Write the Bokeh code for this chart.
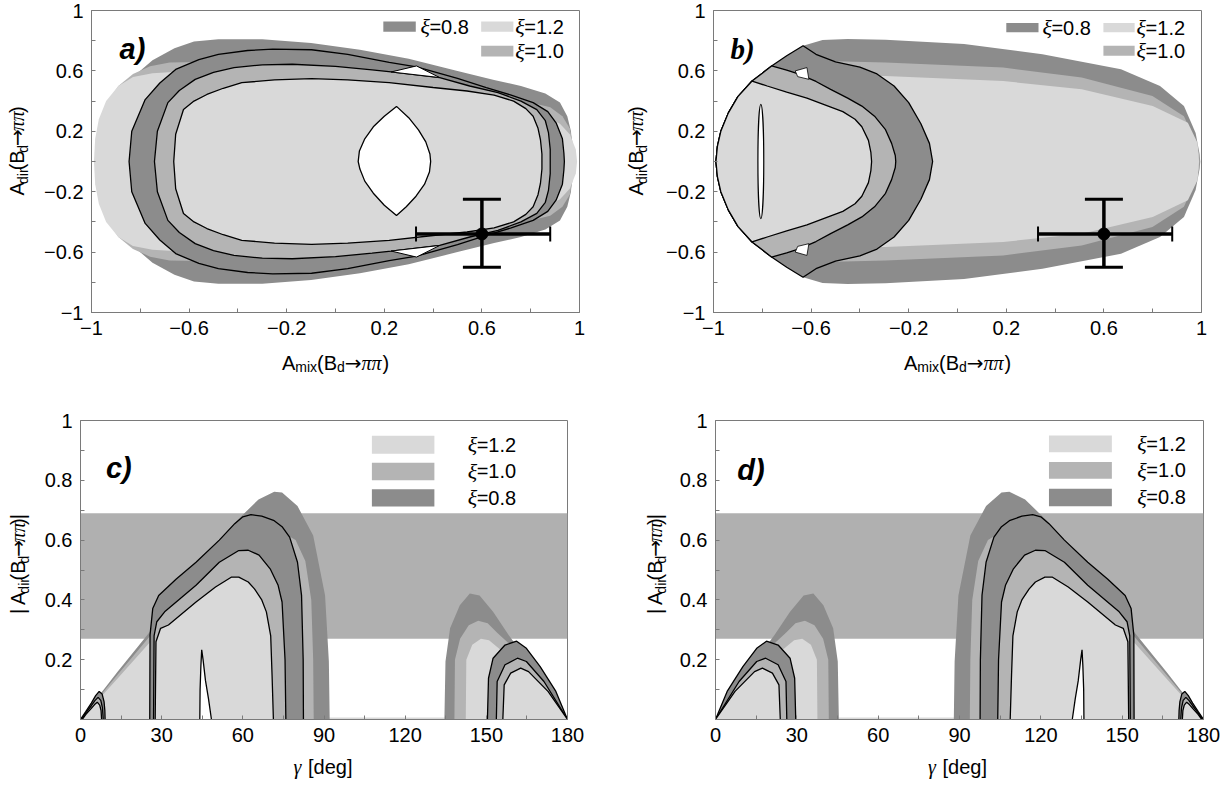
from math import pi
from bokeh.plotting import figure
from bokeh.layouts import column, row
from bokeh.models import FixedTicker, Whisker, TeeHead, ColumnDataSource, Range1d
from bokeh.core.properties import value
from bokeh.embed import file_html
from bokeh.resources import INLINE

# ------------------------------------------------------------------ data
# panels a/b : x = A_mix, y = A_dir (regions symmetric in A_dir; upper halves listed)
a_dark_top = [(-0.95, 0), (-0.94, 0.2), (-0.9, 0.4), (-0.83, 0.56), (-0.75, 0.67), (-0.66, 0.75),
              (-0.58, 0.795), (-0.48, 0.81), (-0.3, 0.81), (-0.1, 0.785), (0.1, 0.74), (0.3, 0.68),
              (0.5, 0.6), (0.65, 0.54), (0.76, 0.5), (0.86, 0.45), (0.92, 0.39), (0.95, 0.3),
              (0.965, 0.2), (0.97, 0.1), (0.97, 0)]
a_med_top = [(-0.975, 0), (-0.97, 0.2), (-0.94, 0.38), (-0.89, 0.5), (-0.83, 0.58), (-0.76, 0.63),
             (-0.68, 0.655), (-0.5, 0.66), (-0.2, 0.65), (0.2, 0.58), (0.5, 0.5), (0.7, 0.43),
             (0.88, 0.36), (0.93, 0.3), (0.96, 0.22), (0.975, 0.1), (0.975, 0)]
a_light_top = [(-0.99, 0), (-0.985, 0.15), (-0.97, 0.28), (-0.94, 0.4), (-0.89, 0.5), (-0.83, 0.56),
               (-0.75, 0.585), (-0.6, 0.6), (-0.4, 0.6), (-0.1, 0.58), (0.2, 0.54), (0.5, 0.46),
               (0.7, 0.38), (0.86, 0.3), (0.92, 0.25), (0.96, 0.18), (0.985, 0.08), (0.99, 0)]
a_c1_top = [(-0.846, 0), (-0.835, 0.2), (-0.78, 0.41), (-0.72, 0.52), (-0.655, 0.61), (-0.56, 0.675),
            (-0.48, 0.71), (-0.36, 0.735), (-0.257, 0.744), (-0.098, 0.74), (0.05, 0.71), (0.22, 0.656),
            (0.332, 0.627), (0.5, 0.55), (0.618, 0.49), (0.72, 0.44), (0.81, 0.39), (0.87, 0.33),
            (0.904, 0.256), (0.93, 0.15), (0.936, 0.056), (0.938, 0)]
a_c2_top = [(-0.742, 0), (-0.73, 0.2), (-0.687, 0.39), (-0.64, 0.47), (-0.575, 0.544), (-0.5, 0.59),
            (-0.416, 0.622), (-0.3, 0.64), (-0.177, 0.644), (0.0, 0.63), (0.15, 0.607), (0.228, 0.593),
            (0.427, 0.556), (0.55, 0.5), (0.666, 0.456), (0.76, 0.4), (0.825, 0.344), (0.86, 0.27),
            (0.873, 0.189), (0.88, 0.08), (0.88, 0)]
a_c3_top = [(-0.663, 0), (-0.655, 0.18), (-0.623, 0.344), (-0.58, 0.4), (-0.527, 0.444), (-0.46, 0.485),
            (-0.384, 0.522), (-0.25, 0.54), (-0.098, 0.549), (0.05, 0.54), (0.22, 0.522), (0.4, 0.49),
            (0.539, 0.467), (0.65, 0.44), (0.73, 0.4), (0.78, 0.35), (0.81, 0.3), (0.83, 0.22),
            (0.84, 0.144), (0.846, 0.05), (0.846, 0)]
a_lens = [(0.25, 0.365), (0.3, 0.29), (0.34, 0.21), (0.37, 0.13), (0.387, 0.05), (0.39, 0.0),
          (0.385, -0.07), (0.365, -0.15), (0.33, -0.23), (0.29, -0.3), (0.25, -0.358), (0.2, -0.29),
          (0.155, -0.21), (0.12, -0.13), (0.1, -0.05), (0.093, 0.0), (0.098, 0.07), (0.12, 0.15),
          (0.155, 0.23), (0.2, 0.3)]
a_notch_top = [(0.228, 0.593), (0.332, 0.633), (0.427, 0.556)]

b_dark_top = [(-0.75, 0), (-0.72, 0.65), (-0.633, 0.767), (-0.553, 0.805), (-0.45, 0.812), (-0.295, 0.807),
              (0.027, 0.778), (0.348, 0.711), (0.67, 0.611), (0.83, 0.5), (0.928, 0.367), (0.976, 0.189),
              (0.992, 0.05), (0.995, 0)]
b_med_top = [(-0.75, 0), (-0.72, 0.6), (-0.55, 0.665), (-0.295, 0.656), (0.187, 0.622), (0.509, 0.556),
             (0.799, 0.433), (0.928, 0.3), (0.97, 0.15), (0.99, 0.05), (0.992, 0)]
b_light_top = [(-0.75, 0), (-0.72, 0.55), (-0.55, 0.57), (-0.295, 0.567), (0.187, 0.533), (0.509, 0.478),
               (0.8, 0.367), (0.944, 0.256), (0.984, 0.122), (0.99, 0)]
b_arc_top = [(-0.633, 0.767), (-0.70, 0.70), (-0.762, 0.633), (-0.80, 0.585), (-0.842, 0.533),
             (-0.9, 0.43), (-0.939, 0.322), (-0.97, 0.2), (-0.984, 0.1), (-0.99, 0.0)]
b_l1_top = [(-0.633, 0.767), (-0.58, 0.71), (-0.5, 0.66), (-0.4, 0.625), (-0.33, 0.58), (-0.26, 0.5),
            (-0.2, 0.39), (-0.15, 0.25), (-0.115, 0.12), (-0.102, 0.0)]
b_l2_top = [(-0.762, 0.633), (-0.7, 0.605), (-0.649, 0.578), (-0.58, 0.53), (-0.52, 0.478), (-0.45, 0.42),
            (-0.392, 0.367), (-0.34, 0.3), (-0.295, 0.211), (-0.27, 0.12), (-0.255, 0.04), (-0.253, 0.0)]
b_l3_top = [(-0.842, 0.533), (-0.78, 0.5), (-0.7, 0.46), (-0.617, 0.42), (-0.56, 0.385), (-0.47, 0.33),
            (-0.42, 0.28), (-0.392, 0.23), (-0.365, 0.14), (-0.355, 0.06), (-0.352, 0.0)]
b_notch_top = [(-0.665, 0.6), (-0.617, 0.622), (-0.609, 0.544), (-0.655, 0.562)]
b_slit_x, b_slit_y, b_slit_w, b_slit_h = [-0.806], [0.0], [0.024], [0.756]

# experimental point (both upper panels)
exp_amix, exp_adir = [0.6], [-0.48]
exp_amix_lo, exp_amix_hi = [0.33], [0.88]
exp_adir_lo, exp_adir_hi = [-0.70], [-0.25]

# legends of a / b
leg_ab_xi = ["0.8", "1.2", "1.0"]
a_leg_left, a_leg_right = [0.196, 0.597, 0.597], [0.329, 0.729, 0.729]
a_leg_bottom, a_leg_top = [0.86, 0.86, 0.696], [0.927, 0.927, 0.767]
a_leg_text_x = [0.348, 0.737, 0.737]
b_leg_left, b_leg_right = [0.2, 0.598, 0.598], [0.332, 0.726, 0.726]
b_leg_bottom, b_leg_top = [0.856, 0.856, 0.7], [0.918, 0.918, 0.767]
b_leg_text_x = [0.348, 0.734, 0.734]

# panel c : x = gamma [deg], y = |A_dir| ; panel d is the mirror image gamma -> 180 - gamma
c_band_lo, c_band_hi = 0.27, 0.69
c_dark_left = [(0, 0), (13.7, 0.16), (26.7, 0.305), (42.7, 0.504), (57.1, 0.659), (65.8, 0.736),
               (71.6, 0.762), (74.5, 0.759), (80.2, 0.714), (86.0, 0.615), (90.4, 0.415),
               (91.8, 0.194), (92.1, 0)]
c_med_left = [(0, 0), (13.7, 0.15), (26.7, 0.29), (42, 0.47), (55, 0.58), (63, 0.625), (69, 0.64),
              (74, 0.63), (79.5, 0.6), (83.1, 0.53), (85.3, 0.4), (86, 0.2), (86.2, 0)]
c_light_left = [(0, 0), (13.7, 0.137), (26, 0.262), (30, 0.3), (30, 0)]
c_dark_right = [(134.5, 0), (134.9, 0.194), (136.6, 0.305), (140.2, 0.382), (143.9, 0.421),
                (147.5, 0.415), (152.5, 0.36), (158.3, 0.282), (165.5, 0.194), (172.8, 0.105), (180, 0)]
c_med_right = [(138.2, 0), (138.4, 0.2), (140.3, 0.27), (143.5, 0.315), (147, 0.33), (150.5, 0.322),
               (154, 0.29), (160, 0.24), (170, 0.12), (180, 0)]
c_light_right = [(142.4, 0), (142.6, 0.2), (144.8, 0.25), (148, 0.27), (151, 0.265), (155, 0.235),
                 (162, 0.17), (170, 0.09), (180, 0)]
c_floor = (0.0, 0.007)
c_t1 = [(0, 0), (2, 0.027), (4, 0.055), (5.6, 0.08), (6.9, 0.094), (8, 0.085), (8.7, 0.06), (9, 0.03), (9.1, 0)]
c_t2 = [(0.3, 0), (2, 0.022), (4, 0.046), (5.4, 0.064), (6.5, 0.074), (7.5, 0.064), (8.1, 0.04), (8.4, 0)]
c_t3 = [(0.6, 0), (2, 0.017), (4, 0.037), (5.2, 0.05), (6.2, 0.058), (7.1, 0.048), (7.6, 0.03), (7.8, 0)]
c_c1 = [(25.6, 0), (25.7, 0.282), (26.7, 0.371), (28.9, 0.415), (35.4, 0.47), (42.7, 0.526), (51.3, 0.6),
        (57, 0.655), (60, 0.678), (63, 0.685), (67, 0.68), (71.6, 0.665), (74.5, 0.645), (77.3, 0.61),
        (80.2, 0.526), (81.7, 0.415), (82.3, 0.2), (82.4, 0)]
c_c2 = [(27, 0), (27.2, 0.28), (28.2, 0.327), (31.1, 0.36), (42.7, 0.449), (51.3, 0.526), (58.5, 0.565),
        (62, 0.566), (66, 0.55), (70.1, 0.504), (73, 0.45), (74.5, 0.393), (75.6, 0.2), (75.9, 0)]
c_c3 = [(27.6, 0), (27.9, 0.26), (29.6, 0.305), (32.5, 0.316), (42.7, 0.393), (49.9, 0.443), (55.7, 0.476),
        (58.5, 0.476), (62, 0.46), (64.3, 0.437), (67, 0.4), (68.7, 0.36), (70.3, 0.28), (70.8, 0.15), (71.3, 0)]
c_c1r = [(150.4, 0), (150.8, 0.138), (152.5, 0.205), (156.9, 0.249), (161.2, 0.262), (164.8, 0.238),
         (169.9, 0.177), (175.7, 0.094), (180, 0)]
c_c2r = [(153.7, 0), (154, 0.127), (156.9, 0.183), (161.5, 0.205), (164.8, 0.194), (171.3, 0.127), (180, 0)]
c_c3r = [(156.1, 0), (156.6, 0.116), (159, 0.155), (162.7, 0.172), (165.6, 0.16), (172.8, 0.094), (180, 0)]
c_spike = [(44.1, 0), (44.2, 0.1), (44.5, 0.18), (44.8, 0.233), (45.3, 0.2), (46.2, 0.13), (47.3, 0.07), (48.4, 0)]

leg_cd_xi = ["1.2", "1.0", "0.8"]
c_leg_left, c_leg_right, c_leg_text_x = 107.7, 130.8, 143.1
c_leg_bottom, c_leg_top = [0.889, 0.80, 0.712], [0.949, 0.859, 0.77]
d_leg_left, d_leg_right, d_leg_text_x = 123.0, 146.2, 155.6
d_leg_bottom, d_leg_top = [0.894, 0.805, 0.713], [0.95, 0.861, 0.772]

ab_ticks, ab_minor = [-1, -0.6, -0.2, 0.2, 0.6, 1], [-0.8, -0.4, 0, 0.4, 0.8]
g_ticks, g_minor = [0, 30, 60, 90, 120, 150, 180], [15, 45, 75, 105, 135, 165]
cd_yticks, cd_yminor = [0.2, 0.4, 0.6, 0.8, 1], [0.1, 0.3, 0.5, 0.7, 0.9]

# ------------------------------------------------------------------ style
DARK, MED, LIGHT, BAND = "#8c8c8c", "#b4b4b4", "#d9d9d9", "#b0b0b0"
FRAME = "#7a7a7a"
SANS, SERIF, ARROWF = "Liberation Sans", "Liberation Serif", "DejaVu Sans"
EM = {"A": 0.667, "m": 0.833, "i": 0.222, "x": 0.5, "(": 0.333, ")": 0.333, "B": 0.667, "d": 0.556,
      "r": 0.333, "|": 0.26, "\u2192": 0.838, "\u03c0": 0.52, "\u03b3": 0.45, "[": 0.278, "]": 0.278,
      " ": 0.278, "e": 0.556, "g": 0.556}


def tw(s, size):
    return sum(EM.get(c, 0.556) for c in s) * size


def xs_ys(pts):
    return [p[0] for p in pts], [p[1] for p in pts]


def sym_closed(top):
    pts = list(top) + [(x, -y) for (x, y) in reversed(top[1:-1])]
    return xs_ys(pts)


def sym_path(top):
    return list(top) + [(x, -y) for (x, y) in reversed(top[:-1])]


def shield(arc_top, line_top):
    y0 = line_top[0][1]
    arc = [line_top[0]] + [p for p in arc_top if p[1] < y0 - 1e-9]
    pts = sym_path(arc) + list(reversed(sym_path(line_top)))[1:-1]
    return xs_ys(pts)


def mirror_g(pts):
    return [(180 - x, y) for (x, y) in pts]


def fmt(v):
    return ("%g" % v).replace("-", "\u2212")


def make_fig(xr, yr, fw, fh, bl, br, bt, bb, xt, xm, yt, ym):
    p = figure(x_range=Range1d(*xr), y_range=Range1d(*yr), frame_width=fw, frame_height=fh,
               min_border_left=bl, min_border_right=br, min_border_top=bt, min_border_bottom=bb,
               output_backend="svg", toolbar_location=None, tools="")
    p.grid.visible = False
    p.outline_line_color = FRAME
    p.outline_line_width = 1
    p.background_fill_color = "white"
    p.border_fill_color = "white"
    for ax, t, m in ((p.xaxis[0], xt, xm), (p.yaxis[0], yt, ym)):
        ax.ticker = FixedTicker(ticks=t, minor_ticks=m)
        ax.major_label_overrides = {v: fmt(v) for v in t}
        ax.axis_line_color = FRAME
        ax.major_tick_line_color = FRAME
        ax.minor_tick_line_color = FRAME
        ax.major_tick_in, ax.major_tick_out = 4, 0
        ax.minor_tick_in, ax.minor_tick_out = 4, 0
        ax.major_label_text_font = SANS
        ax.major_label_text_font_size = "20px"
        ax.major_label_text_color = "black"
        ax.major_label_standoff = 8
    return p


def strip(w, h):
    s = figure(width=w, height=h, x_range=Range1d(0, w), y_range=Range1d(0, h), x_axis_type=None,
               y_axis_type=None, min_border=0, output_backend="svg", toolbar_location=None, tools="")
    s.outline_line_color = None
    s.background_fill_color = "white"
    s.border_fill_color = "white"
    return s


SUB_SHIFT = 6  # centre of a 14px subscript sits this far below the centre of 20px text


def hlabel(s, parts, center, base):
    """Horizontal label built from pieces (subscripts lowered), alphabetic baseline at `base`."""
    total = sum(tw(t, sz) for t, sz, _, _, _ in parts)
    pos = center - total / 2.0
    for t, sz, drop, font, style in parts:
        if t.strip():
            s.text(x=[pos], y=[base - drop], text=[t], text_font=value(font), text_font_size="%dpx" % sz,
                   text_font_style=style, text_color="black", text_align="left", text_baseline="alphabetic")
        pos += tw(t, sz)


def vlabel(s, parts, mid_y, cx):
    """Vertical (bottom-to-top) label; cx = x of the centre line of the main text."""
    total = sum(tw(t, sz) for t, sz, _, _, _ in parts)
    pos = mid_y - total / 2.0
    for t, sz, drop, font, style in parts:
        if t.strip():
            x = cx + (SUB_SHIFT if drop else 0)
            s.text(x=[x], y=[pos], text=[t], angle=pi / 2, text_font=value(font), text_font_size="%dpx" % sz,
                   text_font_style=style, text_color="black", text_align="left", text_baseline="middle")
        pos += tw(t, sz)


def adir_parts(bars):
    parts = [("A", 20, 0, SANS, "normal"), ("dir", 14, 4, SANS, "normal"), ("(B", 20, 0, SANS, "normal"),
             ("d", 14, 4, SANS, "normal"), ("\u2192", 20, 0, ARROWF, "normal"),
             ("\u03c0\u03c0", 20, 0, SERIF, "italic"), (")", 20, 0, SANS, "normal")]
    if bars:
        parts = [("|", 20, 0, SANS, "normal"), (" ", 20, 0, SANS, "normal")] + parts + \
                [("|", 20, 0, SANS, "normal")]
    return parts


AMIX_PARTS = [("A", 20, 0, SANS, "normal"), ("mix", 14, 4, SANS, "normal"), ("(B", 20, 0, SANS, "normal"),
              ("d", 14, 4, SANS, "normal"), ("\u2192", 20, 0, ARROWF, "normal"),
              ("\u03c0\u03c0", 20, 0, SERIF, "italic"), (")", 20, 0, SANS, "normal")]
GAMMA_PARTS = [("\u03b3", 20, 0, SERIF, "italic"), (" ", 20, 0, SANS, "normal"), ("[deg]", 20, 0, SANS, "normal")]


def outline_patch(p, pts, fill):
    x, y = xs_ys(pts)
    p.patch(x, y, fill_color=fill, line_color=None)
    p.line(x, y, line_color="black", line_width=1.3)


def add_error_point(p):
    src = ColumnDataSource(dict(x=exp_amix, y=exp_adir, xlo=exp_amix_lo, xhi=exp_amix_hi,
                                ylo=exp_adir_lo, yhi=exp_adir_hi))
    p.add_layout(Whisker(source=src, base="x", lower="ylo", upper="yhi", dimension="height",
                         line_width=3.5, line_color="black", level="overlay",
                         upper_head=TeeHead(size=38, line_width=3, line_color="black"),
                         lower_head=TeeHead(size=38, line_width=3, line_color="black")))
    p.add_layout(Whisker(source=src, base="y", lower="xlo", upper="xhi", dimension="width",
                         line_width=3.5, line_color="black", level="overlay",
                         upper_head=TeeHead(size=15, line_width=2, line_color="black"),
                         lower_head=TeeHead(size=15, line_width=2, line_color="black")))
    p.scatter("x", "y", source=src, size=12, color="black")


def add_legend(p, left, right, bottom, top, tx, cols, vals):
    p.quad(left=left, right=right, bottom=bottom, top=top, fill_color=cols, line_color=None)
    ty = [(b + t) / 2 for b, t in zip(bottom, top)]
    p.text(x=tx, y=ty, text=["\u03be"] * len(ty), text_font=value(SERIF), text_font_style="italic",
           text_font_size="22px", text_baseline="middle", text_align="left")
    p.text(x=tx, y=ty, text=["=" + v for v in vals], text_font=value(SANS), text_font_size="20px",
           text_baseline="middle", text_align="left", x_offset=9)


def letter(p, x, y, t, font):
    p.text(x=[x], y=[y], text=[t], text_font=value(font), text_font_style="bold italic",
           text_font_size="29px", text_baseline="middle", text_align="left")


# ------------------------------------------------------------------ panel a
pa = make_fig((-1, 1), (-1, 1), 488, 302, 50, 34, 10, 33, ab_ticks, ab_minor, ab_ticks, ab_minor)
for top, col in ((a_dark_top, DARK), (a_med_top, MED), (a_light_top, LIGHT)):
    x, y = sym_closed(top)
    pa.patch(x, y, fill_color=col, line_color=None)
for top, col in ((a_c1_top, DARK), (a_c2_top, MED), (a_c3_top, LIGHT)):
    x, y = sym_closed(top)
    pa.patch(x, y, fill_color=col, line_color="black", line_width=1.3)
lx, ly = xs_ys(a_lens)
pa.patch(lx, ly, fill_color="white", line_color="black", line_width=1.3)
nx, ny = xs_ys(a_notch_top)
pa.patch(nx, ny, fill_color="white", line_color="black", line_width=1)
pa.patch(nx, [-v for v in ny], fill_color="white", line_color="black", line_width=1)
add_error_point(pa)
add_legend(pa, a_leg_left, a_leg_right, a_leg_bottom, a_leg_top, a_leg_text_x, [DARK, LIGHT, MED], leg_ab_xi)
letter(pa, -0.885, 0.745, "a)", SANS)

# ------------------------------------------------------------------ panel b
pb = make_fig((-1, 1), (-1, 1), 488, 302, 50, 25, 10, 33, ab_ticks, ab_minor, ab_ticks, ab_minor)
for top, col in ((b_dark_top, DARK), (b_med_top, MED), (b_light_top, LIGHT)):
    x, y = sym_closed(top)
    pb.patch(x, y, fill_color=col, line_color=None)
for line_top, col in ((b_l1_top, DARK), (b_l2_top, MED), (b_l3_top, LIGHT)):
    x, y = shield(b_arc_top, line_top)
    pb.patch(x, y, fill_color=col, line_color="black", line_width=1.3)
nx, ny = xs_ys(b_notch_top)
pb.patch(nx, ny, fill_color="white", line_color="black", line_width=0.8)
pb.patch(nx, [-v for v in ny], fill_color="white", line_color="black", line_width=0.8)
pb.ellipse(x=b_slit_x, y=b_slit_y, width=b_slit_w, height=b_slit_h, fill_color="white",
           line_color="black", line_width=1.2)
add_error_point(pb)
add_legend(pb, b_leg_left, b_leg_right, b_leg_bottom, b_leg_top, b_leg_text_x, [DARK, LIGHT, MED], leg_ab_xi)
letter(pb, -0.93, 0.745, "b)", SERIF)


# ------------------------------------------------------------------ panels c / d
def draw_gamma(p, tf):
    p.quad(left=[0], right=[180], bottom=[c_band_lo], top=[c_band_hi], fill_color=BAND, line_color=None)
    p.quad(left=[0], right=[180], bottom=[c_floor[0]], top=[c_floor[1]], fill_color=LIGHT, line_color=None)
    for shp, col in ((c_dark_left, DARK), (c_dark_right, DARK), (c_med_left, MED), (c_med_right, MED),
                     (c_light_left, LIGHT), (c_light_right, LIGHT)):
        x, y = xs_ys(tf(shp))
        p.patch(x, y, fill_color=col, line_color=None)
    for shp, col in ((c_t1, DARK), (c_t2, MED), (c_t3, LIGHT), (c_c1, DARK), (c_c2, MED), (c_c3, LIGHT),
                     (c_c1r, DARK), (c_c2r, MED), (c_c3r, LIGHT), (c_spike, "white")):
        outline_patch(p, tf(shp), col)


pc = make_fig((0, 180), (0, 1), 487, 299, 38, 47, 20, 33, g_ticks, g_minor, cd_yticks, cd_yminor)
draw_gamma(pc, lambda s: s)
add_legend(pc, [c_leg_left] * 3, [c_leg_right] * 3, c_leg_bottom, c_leg_top, [c_leg_text_x] * 3,
           [LIGHT, MED, DARK], leg_cd_xi)
letter(pc, 9.4, 0.84, "c)", SANS)

pd = make_fig((0, 180), (0, 1), 488, 299, 38, 25, 20, 33, g_ticks, g_minor, cd_yticks, cd_yminor)
draw_gamma(pd, mirror_g)
add_legend(pd, [d_leg_left] * 3, [d_leg_right] * 3, d_leg_bottom, d_leg_top, [d_leg_text_x] * 3,
           [LIGHT, MED, DARK], leg_cd_xi)
letter(pd, 8.0, 0.835, "d)", SANS)

# ------------------------------------------------------------------ axis-title strips
yl_a, yl_b = strip(41, 345), strip(50, 345)
yl_c, yl_d = strip(41, 352), strip(62, 352)
xl_ab, xl_cd = strip(1226, 55), strip(1226, 35)
vlabel(yl_a, adir_parts(False), 184, 16)
vlabel(yl_b, adir_parts(False), 184, 22)
vlabel(yl_c, adir_parts(True), 182.5, 17)
vlabel(yl_d, adir_parts(True), 182.5, 40)
hlabel(xl_ab, AMIX_PARTS, 335, 38)
hlabel(xl_ab, AMIX_PARTS, 957, 38)
hlabel(xl_cd, GAMMA_PARTS, 322.5, 21)
hlabel(xl_cd, GAMMA_PARTS, 957, 21)

layout = column(row(yl_a, pa, yl_b, pb, spacing=0), xl_ab,
                row(yl_c, pc, yl_d, pd, spacing=0), xl_cd, spacing=0)
open("out.html", "w").write(file_html(layout, INLINE))
